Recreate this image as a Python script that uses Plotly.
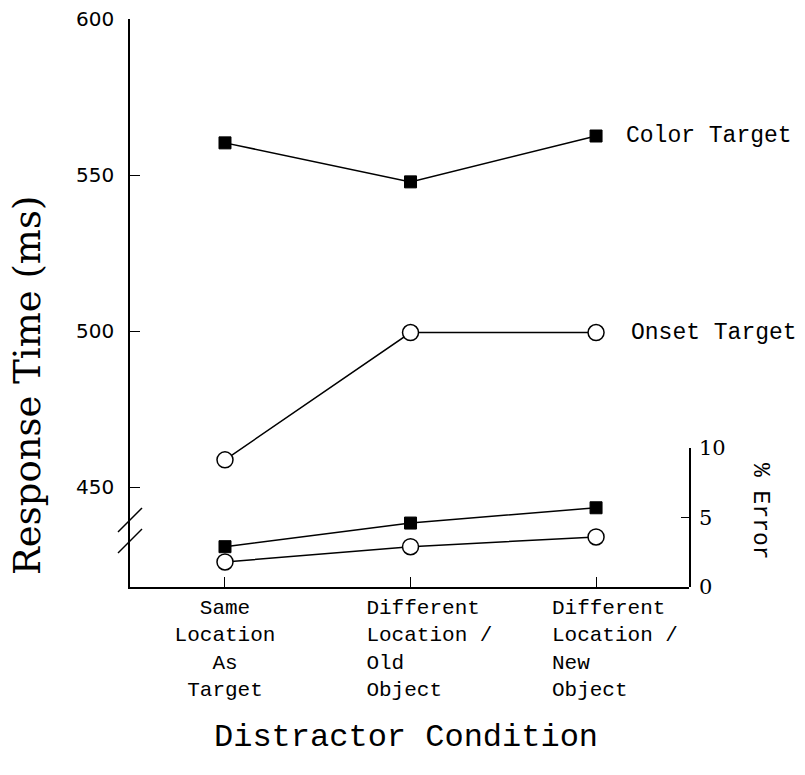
import plotly.graph_objects as go

# ---- data ----
x_pos = [0, 1, 2]
cond_lines = [
    ["Same", "Location", "As", "Target"],
    ["Different", "Location /", "Old", "Object"],
    ["Different", "Location /", "New", "Object"],
]
color_rt = [560.3, 547.8, 562.5]
onset_rt = [458.7, 499.5, 499.5]
color_err = [2.9, 4.6, 5.7]
onset_err = [1.8, 2.9, 3.6]
rt_ticks = [450, 500, 550, 600]
err_ticks = [0, 5, 10]
series_names = ["Color Target", "Onset Target"]

NB = "\u00a0"


def make_label(lines, left_align, lead):
    if not left_align:
        return "<br>".join(lines)
    w = max(len(s) for s in lines)
    return "<br>".join(NB * lead + s.replace(" ", NB) + NB * (w - len(s)) for s in lines)


ticktext = [
    make_label(cond_lines[0], False, 0),
    make_label(cond_lines[1], True, 3),
    make_label(cond_lines[2], True, 3),
]

MONO = "Liberation Mono"
black = "black"
line_style = dict(color=black, width=1.5)
sq = dict(symbol="square", size=12, color=black, line=dict(color=black, width=1))
circ = dict(symbol="circle", size=16, color="white", line=dict(color=black, width=1.5))

fig = go.Figure()
fig.add_trace(go.Scatter(x=x_pos, y=color_rt, mode="lines+markers", line=line_style,
                         marker=sq, cliponaxis=False, name=series_names[0]))
fig.add_trace(go.Scatter(x=x_pos, y=onset_rt, mode="lines+markers", line=line_style,
                         marker=circ, cliponaxis=False, name=series_names[1]))
fig.add_trace(go.Scatter(x=x_pos, y=color_err, mode="lines+markers", line=line_style,
                         marker=sq, cliponaxis=False, yaxis="y2", showlegend=False))
fig.add_trace(go.Scatter(x=x_pos, y=onset_err, mode="lines+markers", line=line_style,
                         marker=circ, cliponaxis=False, yaxis="y2", showlegend=False))

W, H = 805, 775
PL, PR, PT, PB = 130, 689, 19, 587          # plot area in page pixels
plot_w = PR - PL
plot_h = PB - PT


def px(x):
    return (x - PL) / plot_w


def py(y):
    return (PB - y) / plot_h


fig.update_layout(
    width=W, height=H,
    margin=dict(l=PL, r=W - PR, t=PT, b=H - PB, pad=0, autoexpand=False),
    paper_bgcolor="white",
    plot_bgcolor="rgba(0,0,0,0)",
    showlegend=False,
    xaxis=dict(
        range=[-0.512, 2.501], tickmode="array", tickvals=x_pos, ticktext=ticktext,
        ticks="inside", ticklen=10, tickwidth=1.2, tickcolor=black,
        showline=True, linecolor=black, linewidth=1.5, showgrid=False, zeroline=False,
        tickfont=dict(family=MONO, size=21, color=black), ticklabelstandoff=0,
        anchor="y", automargin=False,
    ),
    yaxis=dict(
        range=[417.95, 600], tickmode="array", tickvals=rt_ticks,
        ticks="inside", ticklen=10, tickwidth=1.2, tickcolor=black,
        showline=True, linecolor=black, linewidth=1.5, showgrid=False, zeroline=False,
        tickfont=dict(family="DejaVu Sans", size=20, color=black), ticklabelstandoff=10,
        domain=[0, 1], anchor="x", automargin=False,
    ),
    yaxis2=dict(
        range=[0, 10], tickmode="array", tickvals=err_ticks,
        ticks="inside", ticklen=8, tickwidth=1.2, tickcolor=black,
        showline=True, linecolor=black, linewidth=1.5, showgrid=False, zeroline=False,
        tickfont=dict(family="DejaVu Serif", size=21, color=black), ticklabelstandoff=4,
        domain=[0, py(448)], anchor="x", side="right", automargin=False,
    ),
)

# axis break marks on the left axis
for y0 in (532, 553):
    fig.add_shape(type="line", xref="paper", yref="paper",
                  x0=px(118), x1=px(142), y0=py(y0), y1=py(y0 - 24),
                  line=dict(color=black, width=1.5))

# series labels
fig.add_annotation(x=x_pos[-1], y=color_rt[-1], xref="x", yref="y", text=series_names[0],
                   showarrow=False, xanchor="left", yanchor="middle", xshift=28,
                   font=dict(family=MONO, size=23, color=black))
fig.add_annotation(x=x_pos[-1], y=onset_rt[-1], xref="x", yref="y", text=series_names[1],
                   showarrow=False, xanchor="left", yanchor="middle", xshift=33,
                   font=dict(family=MONO, size=23, color=black))

# axis titles
fig.add_annotation(x=px(27), y=py(386), xref="paper", yref="paper",
                   text="Response Time (ms)", textangle=-90, showarrow=False,
                   xanchor="center", yanchor="middle",
                   font=dict(family="DejaVu Serif", size=37, color=black))
fig.add_annotation(x=px(406), y=py(737), xref="paper", yref="paper",
                   text="Distractor Condition", showarrow=False,
                   xanchor="center", yanchor="middle",
                   font=dict(family=MONO, size=32, color=black))
fig.add_annotation(x=px(760), y=py(511), xref="paper", yref="paper",
                   text="% Error", textangle=90, showarrow=False,
                   xanchor="center", yanchor="middle",
                   font=dict(family=MONO, size=23, color=black))

fig.write_html("out.html",
               config={"displayModeBar": False},
               post_script="document.body.style.margin='0';document.body.style.overflow='hidden';")
